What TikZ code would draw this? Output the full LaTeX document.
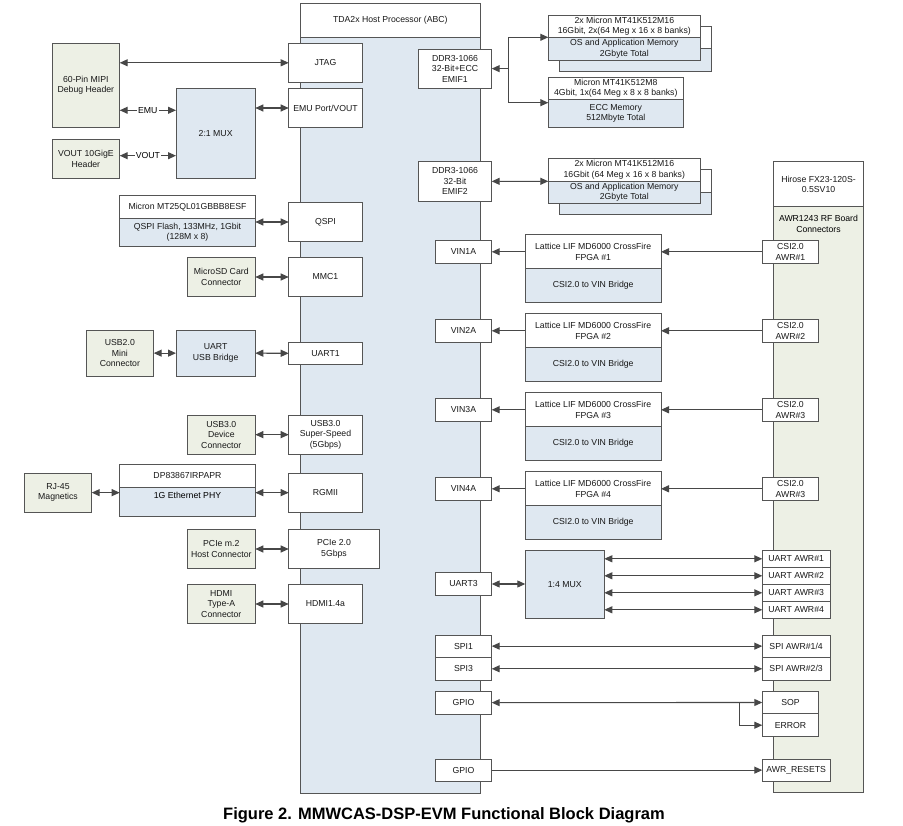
\documentclass[tikz,border=0pt]{standalone}
\usepackage{fontspec}
\setmainfont{Liberation Sans}
\usepackage{tikz}
\usetikzlibrary{arrows.meta}
\definecolor{box edge}{HTML}{555555}
\definecolor{box blue}{HTML}{DFE8F1}
\definecolor{box green}{HTML}{EDF0E5}
\colorlet{line gray}{black!72}
\newcommand\fs{\fontsize{8.7pt}{10.5pt}\selectfont}
\tikzset{blk/.style={draw=box edge, line width=0.8pt, fill=white, inner sep=1pt,
        outer sep=0pt, align=center, font=\fs, text=black!90},
    bluebox/.style={fill=box blue},
    greenbox/.style={fill=box green},
    wire/.style={draw=line gray, line width=1.1pt},
    biarrow/.style={wire, {Triangle[length=8pt,width=7pt]}-{Triangle[length=8pt,width=7pt]}},
    toarrow/.style={wire, -{Triangle[length=8pt,width=7pt]}}}
% box from its corners: name, x1, y1, x2, y2, style, text
\newcommand\blk[7]{\node[blk,#6,minimum width={((#4)-(#2))*1pt},minimum height={((#5)-(#3))*1pt}]
    (#1) at ({((#2)+(#4))/2},{((#3)+(#5))/2}) {#7};}

\begin{document}
\begin{tikzpicture}[x=1pt, y=-1pt]
    \useasboundingbox (0,0) rectangle (903,826);
    % host processor and radar connectors
    \blk{hostB}{300}{37}{480.7}{793}{bluebox}{}
    \blk{hostT}{300}{3.5}{480.7}{37}{}{TDA2x Host Processor (ABC)}
    \blk{hiroseB}{773.3}{206.7}{863.7}{792.7}{greenbox,
        label={[font=\fs,align=center,anchor=north,inner sep=8.5pt]north:AWR1243 RF Board\\Connectors}}{}
    \blk{hiroseT}{773.3}{161.7}{863.7}{206.7}{}{Hirose FX23-120S-\\0.5SV10}

    % left side
    \blk{jtag}{288.7}{43.3}{362.3}{82.3}{}{JTAG}
    \blk{emu}{288.7}{88.3}{362.3}{127.7}{}{EMU Port/VOUT}
    \blk{mipi}{52}{43}{119.7}{127.7}{greenbox}{60-Pin MIPI\\Debug Header}
    \blk{mux21}{176}{88.3}{255.3}{178.3}{bluebox}{2:1 MUX}
    \blk{vout}{52}{139}{119.7}{178.3}{greenbox}{VOUT 10GigE\\Header}
    \blk{flashT}{119.7}{195.7}{255.3}{218.3}{}{Micron MT25QL01GBBB8ESF}
    \blk{flashB}{119.7}{218.3}{255.3}{246}{bluebox}{QSPI Flash, 133MHz, 1Gbit\\(128M x 8)}
    \blk{qspi}{288.7}{202.3}{362.3}{241.7}{}{QSPI}
    \blk{sd}{187.3}{257.3}{255.3}{296.7}{greenbox}{MicroSD Card\\Connector}
    \blk{mmc}{288.7}{257.3}{362.3}{296.7}{}{MMC1}
    \blk{usb2}{86}{330.3}{153.7}{376}{greenbox}{USB2.0\\Mini\\Connector}
    \blk{bridge}{176}{330.3}{255.3}{376}{bluebox}{UART\\USB Bridge}
    \blk{uart1}{288.7}{342.3}{362.3}{364.3}{}{UART1}
    \blk{usb3conn}{187.3}{415}{255.3}{454.3}{greenbox}{USB3.0\\Device\\Connector}
    \blk{usb3}{288.7}{415}{362.3}{454.3}{}{USB3.0\\Super-Speed\\(5Gbps)}
    \blk{rj45}{24.3}{473}{91.7}{512.3}{greenbox}{RJ-45\\Magnetics}
    \blk{phyT}{119.7}{464.3}{255.3}{487}{}{DP83867IRPAPR}
    \blk{phyB}{119.7}{487}{255.3}{516.7}{bluebox,
        label={[font=\fs,anchor=north,inner sep=4.5pt]north:1G Ethernet PHY}}{}
    \blk{rgmii}{288.7}{473}{362.3}{512.3}{}{RGMII}
    \blk{pcieconn}{187.3}{529.3}{255.3}{568.7}{greenbox}{PCIe m.2\\Host Connector}
    \blk{pcie}{288.7}{529.3}{379.3}{568.7}{}{PCIe 2.0\\5Gbps}
    \blk{hdmiconn}{187.3}{584.3}{255.3}{623.7}{greenbox}{HDMI\\Type-A\\Connector}
    \blk{hdmi}{288.7}{584.3}{362.3}{623.7}{}{HDMI1.4a}

    \coordinate (emu in) at ([yshift=23pt]mux21.west);
    \coordinate (vout in) at ([yshift=-22.4pt]mux21.west);
    \draw[biarrow] (mipi.east |- jtag.west) -- (jtag.west);
    \draw[biarrow] (mipi.east |- emu in) -- (emu in)
        node[midway, fill=white, inner sep=1pt, font=\fs] {EMU};
    \draw[biarrow] (vout.east |- vout in) -- (vout in)
        node[midway, fill=white, inner sep=1pt, font=\fs] {VOUT};
    \draw[biarrow] (mux21.east |- emu.west) -- (emu.west);
    \draw[biarrow] (flashB.east |- qspi.west) -- (qspi.west);
    \draw[biarrow] (sd.east) -- (mmc.west);
    \draw[biarrow] (usb2.east) -- (bridge.west);
    \draw[biarrow] (bridge.east) -- (uart1.west);
    \draw[biarrow] (usb3conn.east) -- (usb3.west);
    \draw[biarrow] (rj45.east) -- (phyB.west |- rj45.east);
    \draw[biarrow] (phyB.east |- rgmii.west) -- (rgmii.west);
    \draw[biarrow] (pcieconn.east) -- (pcie.west);
    \draw[biarrow] (hdmiconn.east) -- (hdmi.west);

    % memories
    \blk{emif1}{418.3}{49}{491.7}{88.3}{}{DDR3-1066\\32-Bit+ECC\\EMIF1}
    \blk{mem1sB}{559.3}{48.3}{711.3}{71}{bluebox}{}
    \blk{mem1sT}{559.3}{26}{711.3}{48.3}{}{}
    \blk{mem1T}{548.3}{15}{700.3}{37.3}{}{2x Micron MT41K512M16\\16Gbit, 2x(64 Meg x 16 x 8 banks)}
    \blk{mem1B}{548.3}{37.3}{700.3}{60}{bluebox}{OS and Application Memory\\2Gbyte Total}
    \blk{mem2T}{548.3}{77.3}{683.3}{99.3}{}{Micron MT41K512M8\\4Gbit, 1x(64 Meg x 8 x 8 banks)}
    \blk{mem2B}{548.3}{99.3}{683.3}{127.7}{bluebox}{ECC Memory\\512Mbyte Total}
    \blk{emif2}{418.3}{161.7}{491.7}{201}{}{DDR3-1066\\32-Bit\\EMIF2}
    \blk{mem3sB}{559.3}{192.3}{711.3}{214.7}{bluebox}{}
    \blk{mem3sT}{559.3}{169.7}{711.3}{192.3}{}{}
    \blk{mem3T}{548.3}{158.7}{700.3}{181.3}{}{2x Micron MT41K512M16\\16Gbit (64 Meg x 16 x 8 banks)}
    \blk{mem3B}{548.3}{181.3}{700.3}{203.7}{bluebox}{OS and Application Memory\\2Gbyte Total}

    \coordinate (split) at ([xshift=17pt]emif1.east);
    \draw[toarrow] (split) -- (emif1.east);
    \draw[toarrow] (split) |- (mem1T.south west);
    \draw[toarrow] (split) |- ([yshift=-3.4pt]mem2T.south west);
    \draw[biarrow] (emif2.east) -- (mem3T.south west);

    % video inputs through the FPGAs
    \foreach \i/\k in {1/1,2/2,3/3,4/3}{
        \pgfmathsetmacro\t{234.7+79*(\i-1)}
        \blk{vin\i}{435.3}{\t+5.6}{491.7}{\t+28.6}{}{VIN\i A}
        \blk{fpgaT\i}{525.3}{\t}{661}{\t+34}{}{Lattice LIF MD6000 CrossFire\\FPGA \#\i}
        \blk{fpgaB\i}{525.3}{\t+34}{661}{\t+67.6}{bluebox}{CSI2.0 to VIN Bridge}
        \blk{csi\i}{762.3}{\t+5.6}{818.7}{\t+28.6}{}{CSI2.0\\AWR\#\k}
        \draw[toarrow] (fpgaT\i.west |- vin\i.east) -- (vin\i.east);
        \draw[toarrow] (csi\i.west) -- (fpgaT\i.east |- csi\i.west);
    }

    % uart, spi and gpio
    \blk{uart3}{435.3}{572.7}{491.7}{595.3}{}{UART3}
    \blk{mux14}{525.3}{550.3}{604.3}{618.3}{bluebox}{1:4 MUX}
    \draw[biarrow] (uart3.east) -- (mux14.west |- uart3.east);
    \foreach \i in {1,...,4}{
        \pgfmathsetmacro\t{550.3+17*(\i-1)}
        \blk{uawr\i}{762.3}{\t}{830}{\t+17}{}{UART AWR\#\i}
        \draw[biarrow] (mux14.east |- uawr\i.west) -- (uawr\i.west);
    }
    \blk{spi1}{435.3}{635}{491.7}{657.3}{}{SPI1}
    \blk{spi3}{435.3}{657.3}{491.7}{680.3}{}{SPI3}
    \blk{spiawrA}{762.3}{635}{830}{657.3}{}{SPI AWR\#1/4}
    \blk{spiawrB}{762.3}{657.3}{830}{680.3}{}{SPI AWR\#2/3}
    \blk{gpio1}{435.3}{691.3}{491.7}{714}{}{GPIO}
    \blk{sop}{762.3}{691.3}{818.7}{713.7}{}{SOP}
    \blk{error}{762.3}{713.7}{818.7}{736.7}{}{ERROR}
    \blk{gpio2}{435.3}{759}{491.7}{781.3}{}{GPIO}
    \blk{resets}{762.3}{759}{830}{781.3}{}{AWR\_RESETS}
    \draw[biarrow] (spi1.east) -- (spiawrA.west);
    \draw[biarrow] (spi3.east) -- (spiawrB.west);
    \draw[biarrow] (gpio1.east) -- (sop.west);
    \draw[toarrow] ([xshift=-22.6pt]sop.west) |- (error.west);
    \draw[toarrow] (gpio2.east) -- (resets.west);

    \node[font=\fontsize{16.5pt}{19pt}\selectfont\bfseries] (caption) at (444,815)
        {Figure 2. MMWCAS-DSP-EVM Functional Block Diagram};
\end{tikzpicture}
\end{document}
